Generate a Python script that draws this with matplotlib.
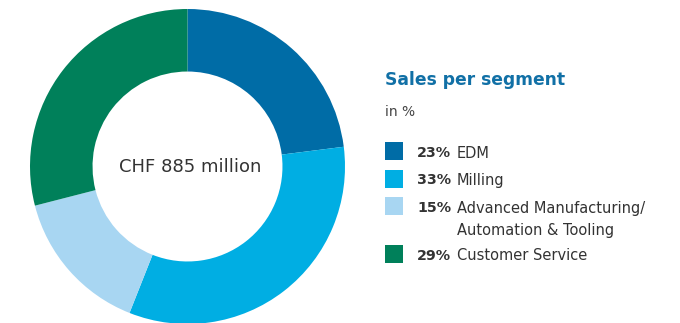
import matplotlib
matplotlib.use("Agg")
import matplotlib.pyplot as plt
from matplotlib.patches import Rectangle

segments = ["EDM", "Milling", "Advanced Manufacturing/\nAutomation & Tooling", "Customer Service"]
shares = [23, 33, 15, 29]
colors = ["#006ca6", "#00aee3", "#a8d6f2", "#00805a"]
total_label = "CHF 885 million"

W, H = 680, 323
fig = plt.figure(figsize=(W / 100, H / 100), dpi=100)

# donut: centre (187.5, 166.5) px, outer radius 157.5 px
cx, cy, r = 187.5, 166.5, 157.5
ax = fig.add_axes([(cx - r) / W, (H - cy - r) / H, 2 * r / W, 2 * r / H])
ax.pie(shares, colors=colors, startangle=90, counterclock=False, radius=1,
       wedgeprops=dict(width=0.397, linewidth=0))
ax.set_xlim(-1, 1)
ax.set_ylim(-1, 1)
ax.set_aspect("equal")
ax.axis("off")
ax.text(0.02, 0, total_label, ha="center", va="center", fontsize=13, color="#333333")

# legend on the right, laid out in pixel units
lg = fig.add_axes([0, 0, 1, 1])
lg.set_xlim(0, W)
lg.set_ylim(H, 0)
lg.axis("off")
lg.text(385, 80, "Sales per segment", fontsize=12.3, fontweight="bold",
        color="#1170a6", va="center", ha="left")
lg.text(385, 112, "in %", fontsize=10, color="#444444", va="center", ha="left")

rows_y = [151, 178.5, 206, 254]
for y, seg, val, c in zip(rows_y, segments, shares, colors):
    lg.add_patch(Rectangle((385, y - 9), 18, 18, color=c, lw=0))
    lg.text(417, y + 2, f"{val}%", fontsize=10.3, fontweight="bold", color="#333333",
            va="center", ha="left")
    for i, line in enumerate(seg.split("\n")):
        lg.text(457, y + 2 + 22 * i, line, fontsize=10.5, color="#333333",
                va="center", ha="left")

fig.savefig("out.png", dpi=100)
